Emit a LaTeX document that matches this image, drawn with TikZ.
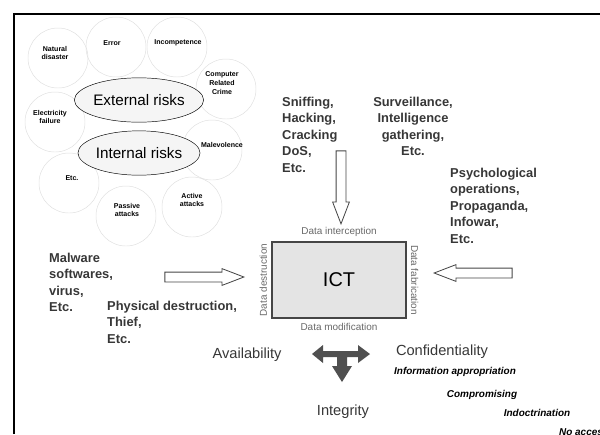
\documentclass[tikz,border=0pt]{standalone}
\usepackage{fontspec}
\setmainfont{Liberation Sans}
\usetikzlibrary{shapes.geometric, shapes.arrows, positioning}
\definecolor{inktext}{RGB}{55,55,55}
\definecolor{ringline}{RGB}{222,222,222}
\definecolor{ictfill}{RGB}{228,228,228}
\definecolor{ictline}{RGB}{70,70,70}
\definecolor{faintlabel}{RGB}{105,105,105}
\definecolor{tarrow}{RGB}{80,80,80}

\begin{document}
\begin{tikzpicture}[
        x=0.03cm, y=-0.03cm,
        ring/.style={circle, draw=ringline, line width=0.4pt,
                     minimum size=1.8cm, inner sep=0},
        ringtext/.style={font=\fontsize{6}{7.5}\selectfont\bfseries,
                         align=center, inner sep=0},
        risk/.style={ellipse, draw, thin, fill=gray!8, minimum width=2.94cm,
                     minimum height=1.33cm, inner sep=0,
                     font=\fontsize{13}{15}\selectfont},
        threat/.style={font=\fontsize{11}{14}\selectfont\bfseries,
                       text=inktext, align=left, inner sep=0},
        hollow/.style={single arrow, draw=ictline, fill=white, line width=0.7pt,
                       inner sep=0.135cm,
                       single arrow head extend=0.105cm,
                       single arrow tip angle=42, single arrow head indent=0},
        sidelabel/.style={font=\fontsize{8.5}{10}\selectfont,
                          text=faintlabel, inner sep=0},
        goal/.style={font=\fontsize{12.5}{15}\selectfont, text=inktext},
        effect/.style={font=\fontsize{8.5}{10}\selectfont\bfseries\itshape}
    ]
        \useasboundingbox (0,0) rectangle (600,434);

        % Frame
        \draw[line width=0.06cm] (14,434) -- (14,14) -- (600,14);

        % Risk circles
        \node[ring] (natural) at (58,58) {};
        \node[ring] (error) at (116,47) {};
        \node[ring] (incomp) at (177,47) {};
        \node[ring] (crime) at (226,89) {};
        \node[ring] (power) at (55,122) {};
        \node[ring] (malev) at (212,150) {};
        \node[ring] (other) at (69,183) {};
        \node[ring] (passive) at (126,216) {};
        \node[ring] (active) at (192,207) {};

        \node[ringtext] (naturaltxt) at (55,53) {Natural\\disaster};
        \node[ringtext] (errortxt) at (112,43) {Error};
        \node[ringtext] (incomptxt) at (178,43) {Incompetence};
        \node[ringtext] (crimetxt) at (222,83) {Computer\\Related\\Crime};
        \node[ringtext] (powertxt) at (50,117) {Electricity\\failure};
        \node[ringtext] (malevtxt) at (222,145) {Malevolence};
        \node[ringtext] (othertxt) at (72,178) {Etc.};
        \node[ringtext] (passivetxt) at (127,210) {Passive\\attacks};
        \node[ringtext] (activetxt) at (192,200) {Active\\attacks};

        % Two risk families
        \node[risk] (external) at (139,100) {External risks};
        \node[risk] (internal) at (139,153) {Internal risks};

        % Threat groups
        \node[threat, anchor=north west] (sniff) at (282,97)
            {Sniffing,\\Hacking,\\Cracking\\DoS,\\Etc.};
        \node[threat, anchor=north, align=center] (surveil) at (413,97)
            {Surveillance,\\Intelligence\\gathering,\\Etc.};
        \node[threat, anchor=north west] (psyops) at (450,168)
            {Psychological\\operations,\\Propaganda,\\Infowar,\\Etc.};
        \node[threat, anchor=north west] (malware) at (49,253)
            {Malware\\softwares,\\virus,\\Etc.};
        \node[threat, anchor=north west] (physical) at (107,301)
            {Physical destruction,\\Thief,\\Etc.};

        % ICT box and its attack labels
        \node[draw=ictline, line width=1.2pt, fill=ictfill, minimum width=4.02cm,
              minimum height=2.28cm, font=\fontsize{17}{20}\selectfont] (ict)
              at (339,280) {ICT};
        \node[sidelabel, above=0.13cm of ict] (intercept) {Data interception};
        \node[sidelabel, below=0.13cm of ict] (modify) {Data modification};
        \node[sidelabel, rotate=90, anchor=south] (destroy)
            at ([xshift=-0.12cm]ict.west) {Data destruction};
        \node[sidelabel, rotate=-90, anchor=south] (fabricate)
            at ([xshift=0.12cm]ict.east) {Data fabrication};

        % Hollow arrows
        \node[hollow, minimum height=2.19cm, shape border rotate=270,
              anchor=tip] (downarr) at (341,225) {};
        \node[hollow, minimum height=2.37cm, anchor=tip] (rightarr)
            at (245,277) {};
        \node[hollow, minimum height=2.34cm, shape border rotate=180,
              anchor=tip] (leftarr) at (433,273) {};

        % T arrow
        \fill[tarrow] (312,354) -- (323,345) -- (323,351) -- (358,351)
            -- (358,345) -- (370,354) -- (358,363) -- (358,357) -- (347,357)
            -- (347,366) -- (352,366) -- (342,382) -- (332,366) -- (337,366)
            -- (337,357) -- (323,357) -- (323,363) -- cycle;

        % Security goals
        \node[goal] (avail) at (247,355) {Availability};
        \node[goal] (confid) at (442,352) {Confidentiality};
        \node[goal] (integ) at (343,412) {Integrity};

        % Effects
        \node[effect] (approp) at (455,372) {Information appropriation};
        \node[effect] (comprom) at (482,395) {Compromising};
        \node[effect] (indoc) at (537,413) {Indoctrination};
        \node[effect, anchor=west] (noaccess) at (555,432) {No access};
\end{tikzpicture}
\end{document}
